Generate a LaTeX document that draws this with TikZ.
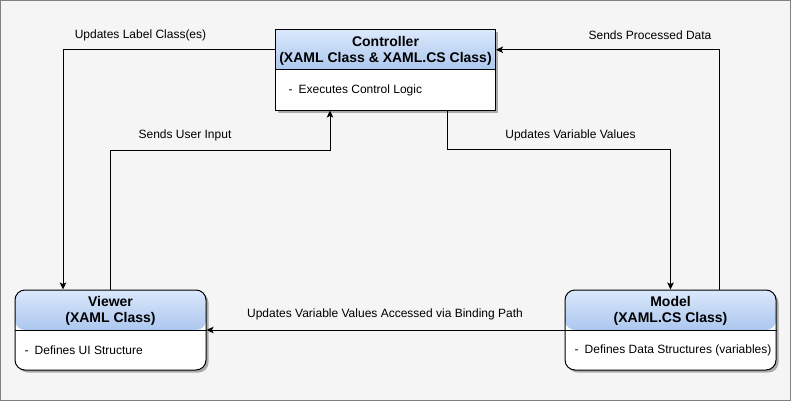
\documentclass[tikz,border=0pt]{standalone}
\usepackage{fontspec}
\setmainfont{Liberation Sans}
\usetikzlibrary{calc,shadows,arrows.meta}
\definecolor{bgc}{HTML}{F5F5F5}
\definecolor{framec}{HTML}{808080}
\definecolor{hdtop}{HTML}{DAE8FC}
\definecolor{hdbot}{HTML}{7EA6E0}
\begin{document}
\begin{tikzpicture}[x=1pt,y=-1pt,
  box/.style={draw=black, line width=1pt, fill=white, minimum height=80pt, inner sep=0pt,
    drop shadow={shadow xshift=2.5pt,shadow yshift=-2.5pt,fill=black,opacity=0.3},
    path picture={\shade[top color=hdtop,bottom color=hdbot]
      (path picture bounding box.north west) rectangle ($(path picture bounding box.north east)+(0,40)$);}},
  rbox/.style={box, rounded corners=10pt},
  title/.style={font=\fontsize{14}{16}\selectfont\bfseries, align=center, inner sep=0pt},
  body/.style={font=\fontsize{12}{14}\selectfont, anchor=west, inner sep=0pt},
  lbl/.style={font=\fontsize{12}{14}\selectfont, inner sep=0pt},
  arr/.style={draw=black, line width=1pt, -{Stealth[length=7pt,width=6.5pt,inset=1.5pt]}},
  line/.style={draw=black, line width=1pt}
]
\useasboundingbox (0,0) rectangle (791,401);
\draw[fill=bgc, draw=framec, line width=1pt] (0.5,0.5) rectangle (790.5,400.5);

% boxes
\node[box, minimum width=220pt] (ctrl) at (385.5,70) {};
\node[rbox, minimum width=191pt] (viewer) at (110.5,330) {};
\node[rbox, minimum width=211pt] (model) at (670.5,330) {};

% header dividers
\draw[line] ($(ctrl.north west)+(0,40)$) -- ($(ctrl.north east)+(0,40)$);
\draw[line] (viewer.west) -- (viewer.east);
\draw[line] (model.west) -- (model.east);

% titles
\node[title] (ctrlt) at ($(ctrl.north)+(0,21)$) {Controller\\(XAML Class \& XAML.CS Class)};
\node[title] (viewert) at ($(viewer.north)+(0,21)$) {Viewer\\(XAML Class)};
\node[title] (modelt) at ($(model.north)+(0,21)$) {Model\\(XAML.CS Class)};

% bodies
\node[body] (ctrlb) at ($(ctrl.west)+(13.5,20)$) {-\hspace{6pt}Executes Control Logic};
\node[body] (viewerb) at ($(viewer.west)+(10,20)$) {-\hspace{6pt}Defines UI Structure};
\node[body] (modelb) at ($(model.west)+(10,20)$) {-\hspace{6pt}Defines Data Structures (variables)};

% connectors
\draw[arr] ($(ctrl.north west)!0.25!(ctrl.south west)$) -| ([xshift=-47.5pt]viewer.north);
\draw[arr] (viewer.north) |- ($(ctrl.south)+(-55.5,40)$) -- ([xshift=-55.5pt]ctrl.south);
\draw[arr] ([xshift=61.5pt]ctrl.south) |- ($(model.north)+(0,-140)$) -- (model.north);
\draw[arr] ([xshift=48.5pt]model.north) |- ($(ctrl.north east)!0.25!(ctrl.south east)$);
\draw[arr] (model.west) -- (viewer.east);

% labels
\node[lbl] (l1) at (140.5,35) {Updates Label Class(es)};
\node[lbl] (l2) at (185,135) {Sends User Input};
\node[lbl] (l3) at (570.5,135) {Updates Variable Values};
\node[lbl] (l4) at (650,35) {Sends Processed Data};
\node[lbl] (l5) at (385,314) {Updates Variable Values Accessed via Binding Path};
\end{tikzpicture}
\end{document}
